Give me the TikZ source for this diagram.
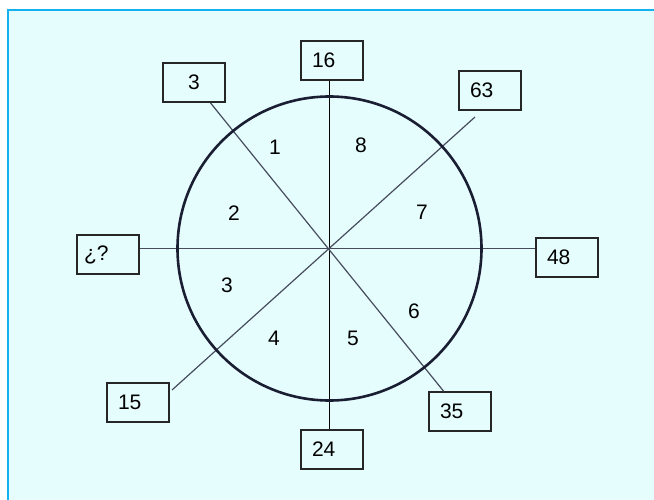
\documentclass[tikz,border=0pt]{standalone}
\usepackage{fontspec}
\setmainfont{Liberation Sans}
\usetikzlibrary{positioning}
\definecolor{bgcol}{HTML}{E6FDFD}
\definecolor{framecol}{HTML}{12B2F0}
\definecolor{ringcol}{HTML}{1A1E33}
\definecolor{spokecol}{HTML}{464C5C}

\begin{document}
\begin{tikzpicture}[
    x=1pt, y=-1pt,
    box/.style={draw=black!85, line width=1.5pt, minimum width=62pt, minimum height=39pt,
                text width=40pt, inner xsep=11pt, align=left, font=\fontsize{21}{23}\selectfont},
    num/.style={font=\fontsize{21}{23}\selectfont},
    spoke/.style={draw=spokecol, line width=1.2pt}
]
\useasboundingbox (0,0) rectangle (654,500);

% background and frame
\fill[bgcol] (8,10) rectangle (654,500);
\draw[framecol, line width=2.4pt] (8,500) -- (8,10) -- (654,10);

\coordinate (o) at (329.5,248.5);

% outer boxes
\node[box] (b16) at (332,60.5) {16};
\node[box, align=center] (b3) at (194,82.5) {3};
\node[box] (b63) at (490,90.5) {63};
\node[box, inner xsep=7pt, text width=48pt] (bq) at (108,254.5) {¿?};
\node[box] (b48) at (567,257.5) {48};
\node[box] (b15) at (138,402.5) {15};
\node[box] (b24) at (332,449.5) {24};
\node[box] (b35) at (460,411.5) {35};

\coordinate (ne) at (475,117);
\coordinate (sw) at (172,390);

% spokes
\draw[spoke, draw=black] (b16.south -| o) -- (b24.north -| o);
\draw[spoke] (bq.east |- o) -- (b48.west |- o);
\draw[spoke] (b3) -- (b35);
\draw[spoke] (ne) -- (sw);

% ring
\draw[ringcol, line width=2.6pt] (o) circle (152);

% sector numbers
\node[num] (n1) at (275,147) {1};
\node[num] (n8) at (361,145) {8};
\node[num] (n2) at (234,213) {2};
\node[num] (n7) at (422,212) {7};
\node[num] (n3) at (227,285) {3};
\node[num] (n6) at (414,311) {6};
\node[num] (n4) at (274,338) {4};
\node[num] (n5) at (353,338) {5};

\end{tikzpicture}
\end{document}
